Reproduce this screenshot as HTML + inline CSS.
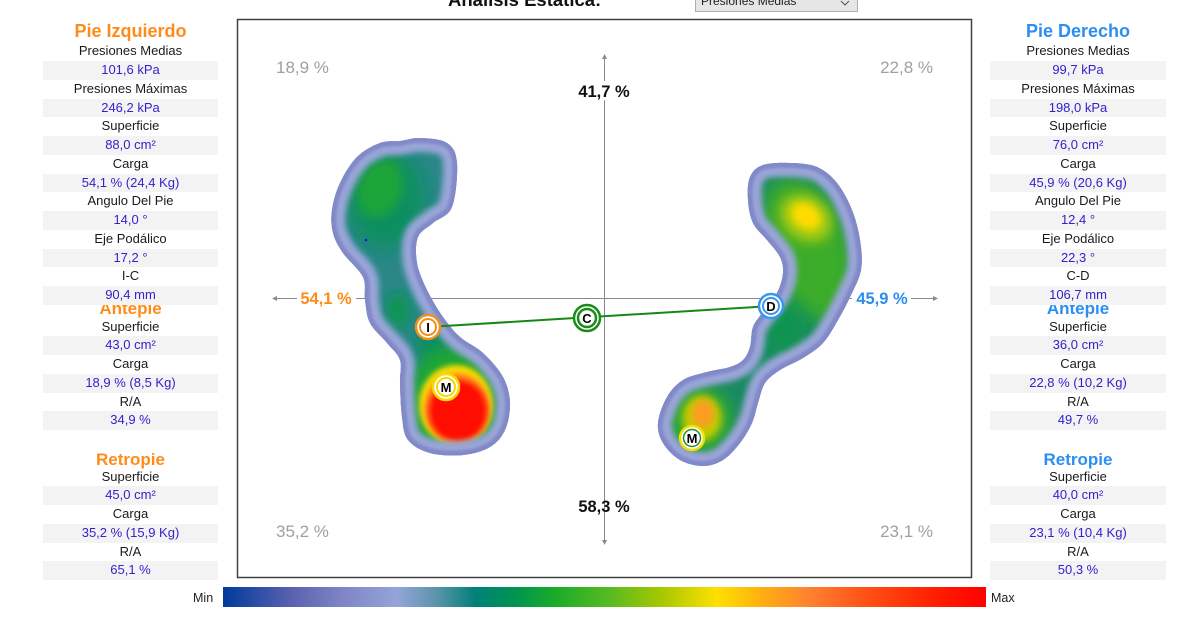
<!DOCTYPE html>
<html><head><meta charset="utf-8">
<style>
html,body{margin:0;padding:0;background:#fff;}
body{width:1186px;height:620px;position:relative;overflow:hidden;font-family:"Liberation Sans",sans-serif;}
.r{position:absolute;height:18.75px;line-height:18.75px;text-align:center;font-size:13px;color:#1a1a1a;white-space:nowrap;z-index:2;}
.v{background:#f3f3f3;color:#3322cc;}
.L{left:43px;width:175px;}
.R{left:990px;width:176px;}
.t{position:absolute;height:20px;line-height:20px;text-align:center;font-weight:bold;white-space:nowrap;z-index:1;}
.o{color:#ff8c1a;}
.b{color:#2b8ef0;}
svg{position:absolute;left:0;top:0;}
</style></head><body>
<svg width="1186" height="620" viewBox="0 0 1186 620" xmlns="http://www.w3.org/2000/svg">
<defs>
<linearGradient id="cb" x1="0" x2="1" y1="0" y2="0">
<stop offset="0" stop-color="#003a9a"/>
<stop offset="0.09" stop-color="#5a62b0"/>
<stop offset="0.157" stop-color="#7f85c6"/>
<stop offset="0.228" stop-color="#95a4d8"/>
<stop offset="0.28" stop-color="#5a94ac"/>
<stop offset="0.331" stop-color="#008077"/>
<stop offset="0.383" stop-color="#009452"/>
<stop offset="0.434" stop-color="#19ab2a"/>
<stop offset="0.51" stop-color="#5bbb20"/>
<stop offset="0.576" stop-color="#a8c800"/>
<stop offset="0.647" stop-color="#ffe000"/>
<stop offset="0.705" stop-color="#ffb010"/>
<stop offset="0.77" stop-color="#ff8030"/>
<stop offset="0.835" stop-color="#ff5518"/>
<stop offset="0.93" stop-color="#ff2000"/>
<stop offset="1" stop-color="#ff0000"/>
</linearGradient>
<filter id="b1" x="-50%" y="-50%" width="200%" height="200%"><feGaussianBlur stdDeviation="1.2"/></filter>
<filter id="b3" x="-50%" y="-50%" width="200%" height="200%"><feGaussianBlur stdDeviation="3"/></filter>
<filter id="b4" x="-50%" y="-50%" width="200%" height="200%"><feGaussianBlur stdDeviation="4"/></filter>
<filter id="b6" x="-50%" y="-50%" width="200%" height="200%"><feGaussianBlur stdDeviation="6"/></filter>
<filter id="b9" x="-50%" y="-50%" width="200%" height="200%"><feGaussianBlur stdDeviation="9"/></filter>
<path id="footL" d="M420,138 L447,143 L457,163 L452,207 L433,223 L418,237 L417,263 L427,290 L443,317 L460,337 L483,353 L503,377 L510,403 L505,430 L490,447 L463,455 L430,453 L408,440 L402,417 L400,383 L400,360 L387,343 L370,323 L365,300 L363,277 L343,253 L333,233 L332,210 L340,183 L357,157 L380,143 L400,141 Z"/>
<path id="footR" d="M750,177 L763,165 L790,163 L817,167 L837,183 L852,210 L860,240 L861,270 L850,297 L838,320 L823,343 L803,358 L780,370 L765,383 L758,403 L752,423 L740,443 L723,460 L703,466 L680,460 L663,443 L658,423 L667,397 L683,380 L707,372 L730,367 L743,360 L750,347 L753,327 L763,312 L777,293 L783,273 L780,257 L767,240 L753,223 L748,200 Z"/>
<clipPath id="cL"><use href="#footL"/></clipPath>
<clipPath id="cR"><use href="#footR"/></clipPath>
</defs>

<text x="448" y="6" font-family="Liberation Sans, sans-serif" font-size="18.5" font-weight="bold" fill="#111">Análisis Estática:</text>
<rect x="695.5" y="-10" width="162" height="21.5" fill="#e6e6e6" stroke="#adadad"/>
<text x="701" y="5" font-family="Liberation Sans, sans-serif" font-size="12" fill="#222">Presiones Medias</text>
<path d="M841,1 L845,5 L849,1" fill="none" stroke="#555" stroke-width="1"/>

<rect x="237.5" y="19.5" width="734" height="558" fill="#fff" stroke="#404040" stroke-width="1.5"/>

<g stroke="#8a8a8a" stroke-width="1">
<line x1="275" y1="298.5" x2="297" y2="298.5"/>
<line x1="356" y1="298.5" x2="852" y2="298.5"/>
<line x1="911" y1="298.5" x2="935" y2="298.5"/>
<line x1="604.5" y1="57" x2="604.5" y2="81"/>
<line x1="604.5" y1="100" x2="604.5" y2="542"/>
</g>
<g fill="#8a8a8a">
<path d="M272,298.5 L277,296 L277,301 Z"/>
<path d="M938,298.5 L933,296 L933,301 Z"/>
<path d="M604.5,54 L602,59 L607,59 Z"/>
<path d="M604.5,545 L602,540 L607,540 Z"/>
</g>

<g font-family="Liberation Sans, sans-serif" font-size="17" fill="#a0a0a0">
<text x="276" y="73">18,9 %</text>
<text x="933" y="73" text-anchor="end">22,8 %</text>
<text x="276" y="537">35,2 %</text>
<text x="933" y="537" text-anchor="end">23,1 %</text>
</g>
<g font-family="Liberation Sans, sans-serif" font-size="16.5" font-weight="bold">
<text x="604" y="97" text-anchor="middle" fill="#111">41,7 %</text>
<text x="604" y="512" text-anchor="middle" fill="#111">58,3 %</text>
<text x="326" y="304" text-anchor="middle" fill="#ff8c1a">54,1 %</text>
<text x="882" y="304" text-anchor="middle" fill="#2b8ef0">45,9 %</text>
</g>

<!-- left foot -->
<g clip-path="url(#cL)">
<rect x="320" y="130" width="200" height="340" fill="#2a8788"/>
<ellipse cx="386" cy="200" rx="40" ry="50" fill="#0f8e62" filter="url(#b9)"/>
<ellipse cx="380" cy="188" rx="22" ry="30" transform="rotate(20 380 188)" fill="#1ea538" filter="url(#b6)"/>
<ellipse cx="398" cy="310" rx="12" ry="18" fill="#0c9455" filter="url(#b6)"/>
<ellipse cx="432" cy="345" rx="16" ry="18" fill="#0d9060" filter="url(#b6)"/>
<ellipse cx="455" cy="402" rx="50" ry="56" fill="#1ea535" filter="url(#b6)"/>
<ellipse cx="456" cy="405" rx="37" ry="40" fill="#ffe000" filter="url(#b3)"/>
<ellipse cx="457" cy="408" rx="33" ry="35" fill="#ff8a1a" filter="url(#b3)"/>
<ellipse cx="458" cy="411" rx="29" ry="31" fill="#ff0800" filter="url(#b3)"/>
<use href="#footL" fill="none" stroke="#9aa5d8" stroke-width="28" filter="url(#b3)"/>
<use href="#footL" fill="none" stroke="#8189c8" stroke-width="10" filter="url(#b1)"/>
</g>
<circle cx="366" cy="240" r="1.3" fill="#1010ff"/>

<!-- right foot -->
<g clip-path="url(#cR)">
<rect x="640" y="150" width="240" height="330" fill="#1a8a62"/>
<ellipse cx="808" cy="250" rx="42" ry="75" transform="rotate(-20 808 250)" fill="#3aac2c" filter="url(#b9)"/>
<ellipse cx="786" cy="330" rx="20" ry="28" fill="#0f9450" filter="url(#b9)"/>
<ellipse cx="806" cy="218" rx="28" ry="22" transform="rotate(35 806 218)" fill="#a8cc10" filter="url(#b6)"/>
<ellipse cx="806" cy="216" rx="16" ry="12" transform="rotate(35 806 216)" fill="#ffdc00" filter="url(#b4)"/>
<ellipse cx="698" cy="420" rx="36" ry="36" fill="#2aa535" filter="url(#b6)"/>
<ellipse cx="702" cy="418" rx="20" ry="23" fill="#c0cc00" filter="url(#b4)"/>
<ellipse cx="703" cy="414" rx="11" ry="14" fill="#ff9a20" filter="url(#b4)"/>
<use href="#footR" fill="none" stroke="#9aa5d8" stroke-width="28" filter="url(#b3)"/>
<use href="#footR" fill="none" stroke="#8189c8" stroke-width="10" filter="url(#b1)"/>
</g>

<line x1="438" y1="326.4" x2="762" y2="306.6" stroke="#148a14" stroke-width="2"/>

<g font-family="Liberation Sans, sans-serif" font-weight="bold" font-size="13" text-anchor="middle">
<g><circle cx="428" cy="327" r="12" fill="#fff" stroke="#f0901a" stroke-width="2.5"/><circle cx="428" cy="327" r="8" fill="#fff" stroke="#f0901a" stroke-width="2"/><text x="428" y="332" fill="#000">I</text></g>
<g><circle cx="587" cy="318" r="13" fill="#fff" stroke="#1a8c1a" stroke-width="2.5"/><circle cx="587" cy="318" r="9" fill="#fff" stroke="#1a8c1a" stroke-width="2.5"/><text x="587" y="323" fill="#000">C</text></g>
<g><circle cx="771" cy="306" r="12" fill="#fff" stroke="#3a96ee" stroke-width="2.5"/><circle cx="771" cy="306" r="8" fill="#fff" stroke="#3a96ee" stroke-width="2"/><text x="771" y="311" fill="#000">D</text></g>
<g><circle cx="446" cy="387" r="13" fill="#fff" stroke="#f5d800" stroke-width="2.5"/><circle cx="446" cy="387" r="9" fill="#fff" stroke="#f5d800" stroke-width="2"/><text x="446" y="392" fill="#000">M</text></g>
<g><circle cx="692" cy="438" r="12" fill="#fff" stroke="#f0e000" stroke-width="2.5"/><circle cx="692" cy="438" r="8.5" fill="#fff" stroke="#2a8a2a" stroke-width="1.5"/><text x="692" y="443" fill="#000">M</text></g>
</g>

<rect x="223" y="587" width="763" height="20" fill="url(#cb)"/>
<text x="193" y="602" font-family="Liberation Sans, sans-serif" font-size="12.5" fill="#222">Min</text>
<text x="991" y="602" font-family="Liberation Sans, sans-serif" font-size="12.5" fill="#222">Max</text>
</svg>

<div class="t o" style="left:43px;width:175px;top:21px;font-size:18px;">Pie Izquierdo</div>
<div class="r L" style="top:42.3px">Presiones Medias</div>
<div class="r L v" style="top:61px">101,6 kPa</div>
<div class="r L" style="top:79.8px">Presiones Máximas</div>
<div class="r L v" style="top:98.5px">246,2 kPa</div>
<div class="r L" style="top:117.3px">Superficie</div>
<div class="r L v" style="top:136px">88,0 cm²</div>
<div class="r L" style="top:154.8px">Carga</div>
<div class="r L v" style="top:173.5px">54,1 % (24,4 Kg)</div>
<div class="r L" style="top:192.3px">Angulo Del Pie</div>
<div class="r L v" style="top:211px">14,0 °</div>
<div class="r L" style="top:229.8px">Eje Podálico</div>
<div class="r L v" style="top:248.5px">17,2 °</div>
<div class="r L" style="top:267.3px">I-C</div>
<div class="r L v" style="top:286px">90,4 mm</div>
<div class="t o" style="left:43px;width:175px;top:299px;font-size:17px;">Antepie</div>
<div class="r L" style="top:317.5px">Superficie</div>
<div class="r L v" style="top:336.25px">43,0 cm²</div>
<div class="r L" style="top:355px">Carga</div>
<div class="r L v" style="top:373.75px">18,9 % (8,5 Kg)</div>
<div class="r L" style="top:392.5px">R/A</div>
<div class="r L v" style="top:411.25px">34,9 %</div>
<div class="t o" style="left:43px;width:175px;top:450px;font-size:17px;">Retropie</div>
<div class="r L" style="top:467.5px">Superficie</div>
<div class="r L v" style="top:486.25px">45,0 cm²</div>
<div class="r L" style="top:505px">Carga</div>
<div class="r L v" style="top:523.75px">35,2 % (15,9 Kg)</div>
<div class="r L" style="top:542.5px">R/A</div>
<div class="r L v" style="top:561.25px">65,1 %</div>

<div class="t b" style="left:990px;width:176px;top:21px;font-size:18px;">Pie Derecho</div>
<div class="r R" style="top:42.3px">Presiones Medias</div>
<div class="r R v" style="top:61px">99,7 kPa</div>
<div class="r R" style="top:79.8px">Presiones Máximas</div>
<div class="r R v" style="top:98.5px">198,0 kPa</div>
<div class="r R" style="top:117.3px">Superficie</div>
<div class="r R v" style="top:136px">76,0 cm²</div>
<div class="r R" style="top:154.8px">Carga</div>
<div class="r R v" style="top:173.5px">45,9 % (20,6 Kg)</div>
<div class="r R" style="top:192.3px">Angulo Del Pie</div>
<div class="r R v" style="top:211px">12,4 °</div>
<div class="r R" style="top:229.8px">Eje Podálico</div>
<div class="r R v" style="top:248.5px">22,3 °</div>
<div class="r R" style="top:267.3px">C-D</div>
<div class="r R v" style="top:286px">106,7 mm</div>
<div class="t b" style="left:990px;width:176px;top:299px;font-size:17px;">Antepie</div>
<div class="r R" style="top:317.5px">Superficie</div>
<div class="r R v" style="top:336.25px">36,0 cm²</div>
<div class="r R" style="top:355px">Carga</div>
<div class="r R v" style="top:373.75px">22,8 % (10,2 Kg)</div>
<div class="r R" style="top:392.5px">R/A</div>
<div class="r R v" style="top:411.25px">49,7 %</div>
<div class="t b" style="left:990px;width:176px;top:450px;font-size:17px;">Retropie</div>
<div class="r R" style="top:467.5px">Superficie</div>
<div class="r R v" style="top:486.25px">40,0 cm²</div>
<div class="r R" style="top:505px">Carga</div>
<div class="r R v" style="top:523.75px">23,1 % (10,4 Kg)</div>
<div class="r R" style="top:542.5px">R/A</div>
<div class="r R v" style="top:561.25px">50,3 %</div>

<script>
(function(){
function smooth(id){
  var p=document.getElementById(id);
  var d=p.getAttribute('d');
  var nums=d.match(/-?\d+(\.\d+)?/g).map(Number);
  var pts=[];for(var i=0;i<nums.length;i+=2)pts.push([nums[i],nums[i+1]]);
  var n=pts.length,s='M'+pts[0][0]+','+pts[0][1];
  for(var i=0;i<n;i++){
    var p0=pts[(i-1+n)%n],p1=pts[i],p2=pts[(i+1)%n],p3=pts[(i+2)%n];
    var c1=[p1[0]+(p2[0]-p0[0])/6,p1[1]+(p2[1]-p0[1])/6];
    var c2=[p2[0]-(p3[0]-p1[0])/6,p2[1]-(p3[1]-p1[1])/6];
    s+=' C'+c1[0].toFixed(2)+','+c1[1].toFixed(2)+' '+c2[0].toFixed(2)+','+c2[1].toFixed(2)+' '+p2[0]+','+p2[1];
  }
  p.setAttribute('d',s+' Z');
}
try{smooth('footL');smooth('footR');}catch(e){}
})();
</script>
</body></html>
